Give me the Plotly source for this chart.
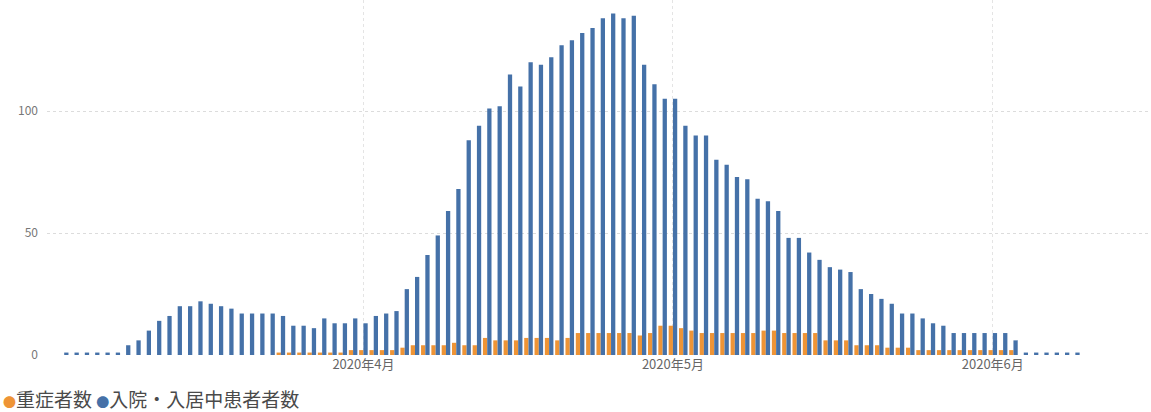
import pandas as pd
import plotly.graph_objects as go

# Categories: one bar group per day
dates = pd.date_range("2020-03-03", "2020-06-09", freq="D")

# 入院・入居中患者者数 (hospitalised / in facilities)
hospitalised = [
    1, 1, 1, 1, 1, 1, 4, 6, 10, 14,
    16, 20, 20, 22, 21, 20, 19, 17, 17, 17,
    17, 16, 12, 12, 11, 15, 13, 13, 15, 13,
    16, 17, 18, 27, 32, 41, 49, 59, 68, 88,
    94, 101, 102, 115, 110, 120, 119, 122, 127, 129,
    132, 134, 138, 140, 138, 139, 119, 111, 105, 105,
    94, 90, 90, 80, 78, 73, 72, 64, 63, 59,
    48, 48, 42, 39, 36, 35, 34, 27, 25, 23,
    21, 17, 17, 15, 13, 12, 9, 9, 9, 9,
    9, 9, 6, 1, 1, 1, 1, 1, 1,
]

# 重症者数 (severe cases)
severe = [
    None, None, None, None, None, None, None, None, None, None,
    None, None, None, None, None, None, None, None, None, None,
    None, 1, 1, 1, 1, 1, 1, 1, 2, 2,
    2, 2, 2, 3, 4, 4, 4, 4, 5, 4,
    4, 7, 6, 6, 6, 7, 7, 7, 6, 7,
    9, 9, 9, 9, 9, 9, 8, 9, 12, 12,
    11, 10, 9, 9, 9, 9, 9, 9, 10, 10,
    9, 9, 9, 9, 6, 6, 6, 4, 4, 4,
    3, 3, 3, 2, 2, 2, 2, 2, 2, 2,
    2, 2, 2, None, None, None, None, None, None,
]

series_names = ["重症者数", "入院・入居中患者者数"]
series_colors = ["#EE9436", "#4571A8"]

tick_dates = ["2020-04-01", "2020-05-01", "2020-06-01"]
tick_labels = ["2020年4月", "2020年5月", "2020年6月"]
y_ticks = [0, 50, 100]

FONT = "Noto Sans CJK JP"

fig = go.Figure()
fig.add_trace(go.Bar(x=dates, y=severe, name=series_names[0],
                     marker=dict(color=series_colors[0], line=dict(width=0)),
                     showlegend=False))
fig.add_trace(go.Bar(x=dates, y=hospitalised, name=series_names[1],
                     marker=dict(color=series_colors[1], line=dict(width=0)),
                     showlegend=False))

legend_text = (
    f'<span style="color:{series_colors[0]};font-size:13px">●</span>{series_names[0]} '
    f'<span style="color:{series_colors[1]};font-size:13px">●</span>{series_names[1]}'
)

W, H = 1151, 412
ml, mr, mt, mb = 47, 0, 0, 57
pw = W - ml - mr
ph = H - mt - mb

fig.update_layout(
    width=W, height=H,
    margin=dict(l=ml, r=mr, t=mt, b=mb, pad=0),
    paper_bgcolor="white", plot_bgcolor="white",
    barmode="group", bargap=0.17, bargroupgap=0,
    font=dict(family=FONT, color="#666666"),
    showlegend=False,
    xaxis=dict(
        type="date",
        range=["2020-03-01 08:00", "2020-06-16 08:00"],
        tickvals=tick_dates, ticktext=tick_labels,
        tickfont=dict(size=13, color="#666666", family=FONT),
        showgrid=True, gridcolor="#e4e4e4", griddash="dot", gridwidth=1,
        showline=False, zeroline=False, ticks="",
    ),
    yaxis=dict(
        range=[0, 145.5],
        tickvals=y_ticks,
        tickfont=dict(size=12, color="#777777", family=FONT),
        showgrid=True, gridcolor="#dcdcdc", griddash="dot", gridwidth=1,
        zeroline=False, showline=False, ticks="",
        ticklabelstandoff=8,
    ),
    annotations=[dict(
        text=legend_text, showarrow=False,
        xref="paper", yref="paper",
        x=-(ml - 2) / pw, y=-(398 - ph) / ph,
        xanchor="left", yanchor="middle",
        borderpad=0,
        font=dict(size=19, color="#4a4a4a", family=FONT),
    )],
)

fig.write_html(
    "out.html",
    config={"displayModeBar": False},
    post_script="document.body.style.margin='0px';document.body.style.overflow='hidden';",
)
